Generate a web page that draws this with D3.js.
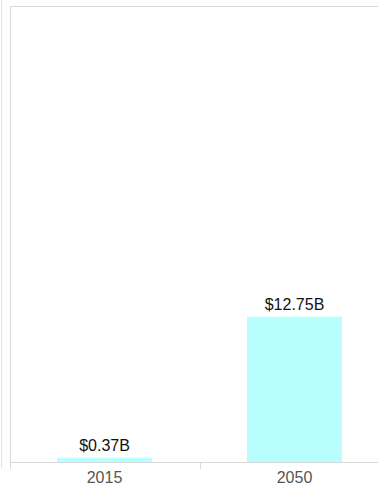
<!DOCTYPE html>
<html>
<head>
<meta charset="utf-8">
<script src="https://cdn.jsdelivr.net/npm/d3@7"></script>
<style>
  html, body { margin: 0; padding: 0; background: #fff; }
  svg { display: block; }
  text { font-family: "Liberation Sans", Arial, sans-serif; }
</style>
</head>
<body>
<svg id="chart" width="378" height="488"></svg>
<script>
// Market size by year, in billions of US dollars
const years = ["2015", "2050"];
const values = [0.37, 12.75];
const valueLabels = ["$0.37B", "$12.75B"];

const width = 378, height = 488;
const plot = { left: 9.5, top: 6, bottom: 462, right: 389.5 };

const svg = d3.select("#chart");

const x = d3.scaleBand()
  .domain(years)
  .range([plot.left, plot.right])
  .paddingInner(0.5)
  .paddingOuter(0.25);

const y = d3.scaleLinear()
  .domain([0, 40])
  .range([plot.bottom, plot.top]);

const gridColor = "#d9d9d9";

// outer left rule
svg.append("line")
  .attr("x1", 1.5).attr("x2", 1.5)
  .attr("y1", 0).attr("y2", 468)
  .attr("stroke", "#e3e3e3").attr("stroke-width", 1);

// frame: top edge and left axis
svg.append("line")
  .attr("x1", 10.5).attr("x2", width)
  .attr("y1", plot.top + 0.5).attr("y2", plot.top + 0.5)
  .attr("stroke", gridColor);
svg.append("line")
  .attr("x1", 10.5).attr("x2", 10.5)
  .attr("y1", plot.top).attr("y2", 469)
  .attr("stroke", gridColor);

// bars
svg.append("g").selectAll("rect")
  .data(years)
  .join("rect")
  .attr("x", d => x(d))
  .attr("width", x.bandwidth())
  .attr("y", (d, i) => y(values[i]))
  .attr("height", (d, i) => y(0) - y(values[i]))
  .attr("fill", "#b8fefe");

// value labels
svg.append("g").selectAll("text")
  .data(years)
  .join("text")
  .attr("x", d => x(d) + x.bandwidth() / 2)
  .attr("y", (d, i) => y(values[i]) - 7)
  .attr("text-anchor", "middle")
  .attr("font-size", 16)
  .attr("fill", "#111")
  .text((d, i) => valueLabels[i]);

// x axis
const xAxis = svg.append("g")
  .attr("transform", `translate(0,${plot.bottom})`)
  .call(d3.axisBottom(x).tickSize(0).tickPadding(10));
xAxis.select(".domain").remove();
xAxis.append("line")
  .attr("x1", 10.5).attr("x2", width)
  .attr("y1", 0.5).attr("y2", 0.5)
  .attr("stroke", gridColor);
xAxis.selectAll(".tick text")
  .attr("font-size", 16)
  .attr("fill", "#555")
  .attr("font-family", "Liberation Sans, Arial, sans-serif");

// separator tick between categories
const sep = (x("2015") + x.bandwidth() + x("2050")) / 2;
xAxis.append("line")
  .attr("x1", Math.round(sep) + 0.5).attr("x2", Math.round(sep) + 0.5)
  .attr("y1", 0).attr("y2", 7)
  .attr("stroke", gridColor);
</script>
</body>
</html>
